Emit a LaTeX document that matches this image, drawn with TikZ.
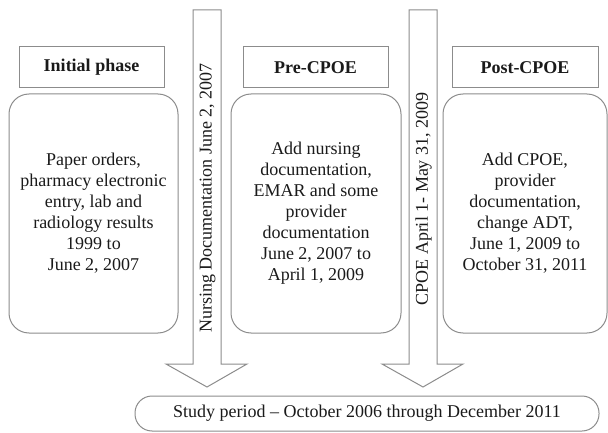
\documentclass[tikz,border=0pt]{standalone}
\usepackage{fontspec}
\setmainfont{Liberation Serif}
\definecolor{edge}{HTML}{8C8C8C}
\definecolor{ink}{HTML}{1A1A1A}
\begin{document}
\begin{tikzpicture}[x=1pt,y=-1pt,
  every node/.style={font=\fontsize{18}{21}\selectfont, text=ink, outer sep=0pt, inner sep=0pt},
  titlebox/.style={draw=edge, line width=1pt, minimum width=145, minimum height=41, font=\fontsize{18}{21}\selectfont\bfseries},
  phasebox/.style={draw=edge, line width=1pt, rounded corners=20, minimum height=239, align=center},
  bigarrow/.style={draw=edge, line width=1pt, fill=white, line join=miter},
  sidetext/.style={rotate=90}]
\useasboundingbox (0,0) rectangle (608,433);
% arrows
\draw[bigarrow] (193,10) -- (221,10) -- (221,364) -- (247,364) -- (207,387) -- (166,364) -- (193,364) -- cycle;
\draw[bigarrow] (409,10) -- (437,10) -- (437,364) -- (463,364) -- (423,387) -- (382,364) -- (409,364) -- cycle;
\node[sidetext] (a1) at (207.5,198) {Nursing Documentation June 2, 2007};
\node[sidetext] (a2) at (423.5,199) {CPOE April 1- May 31, 2009};
% titles
\node[titlebox] (t1) at (91.5,67.5) {Initial phase};
\node[titlebox] (t2) at (315.5,67.5) {Pre-CPOE};
\node[titlebox, minimum width=146] (t3) at (525,67.5) {Post-CPOE};
% phase boxes
\node[phasebox, minimum width=169] (b1) at (93.5,213.5) {Paper orders,\\pharmacy electronic\\entry, lab and\\radiology results\\1999 to\\June 2, 2007};
\node[phasebox, minimum width=170] (b2) at (316,213.5) {Add nursing\\documentation,\\EMAR and some\\provider\\documentation\\June 2, 2007 to\\April 1, 2009};
\node[phasebox, minimum width=164] (b3) at (525,213.5) {Add CPOE,\\provider\\documentation,\\change ADT,\\June 1, 2009 to\\October 31, 2011};
% study period
\node[draw=edge, line width=1pt, rounded corners=17, minimum width=464, minimum height=35] (sp) at (367,413.5) {Study period -- October 2006 through December 2011};
\end{tikzpicture}
\end{document}
